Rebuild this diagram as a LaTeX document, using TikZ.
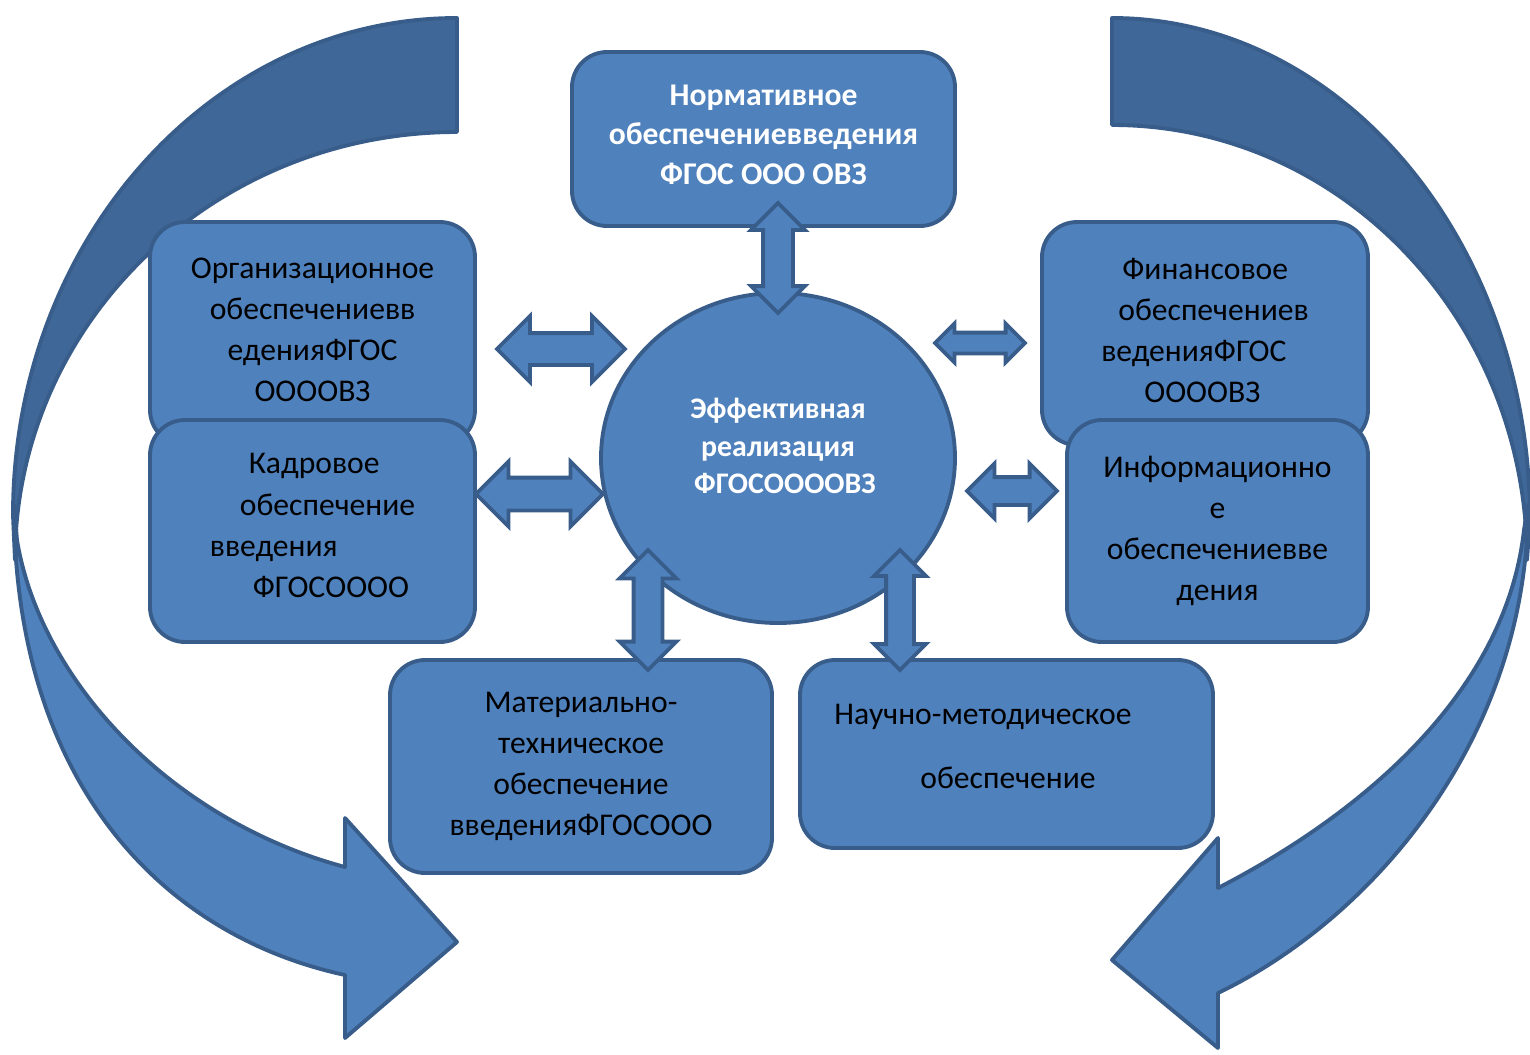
\documentclass[tikz,border=0pt]{standalone}
\usepackage{fontspec}
\setmainfont{Carlito}
\usetikzlibrary{shapes.geometric,shapes.arrows}

\definecolor{boxfill}{HTML}{4F81BD}
\definecolor{boxline}{HTML}{385D8A}
\definecolor{backfill}{HTML}{3F6797}

\tikzset{
  box/.style={draw=boxline, fill=boxfill, line width=1.1pt, rounded corners=3.5mm,
    inner sep=0pt, align=center, font=\fontsize{9}{11.7}\selectfont},
  hub/.style={ellipse, draw=boxline, fill=boxfill, line width=1.1pt, inner sep=0pt,
    align=center, text=white, font=\bfseries\fontsize{8.5}{10.6}\selectfont},
  dblarr/.style={double arrow, draw=boxline, fill=boxfill, line width=1.1pt,
    inner xsep=0pt, double arrow tip angle=90},
  bigarr/.style={draw=boxline, line width=1.1pt, line join=round}
}

\begin{document}
\begin{tikzpicture}[x=0.1mm,y=-0.1mm]
\useasboundingbox (0,0) rectangle (1530,1055);

% left curved arrow
\fill[bigarr, fill=backfill] (457,18) .. controls (212,18) and (13,240) .. (13,515)
  -- (15,560) .. controls (15,324) and (213,132) .. (457,132) -- cycle;
\fill[bigarr, fill=boxfill] (14,505) .. controls (14,780) and (160,935) .. (345,975)
  -- (345,1038) -- (457,942) -- (345,818) -- (345,867)
  .. controls (170,820) and (40,680) .. (17,540) -- cycle;

% right curved arrow
\fill[bigarr, fill=backfill] (1112,18) .. controls (1343,18) and (1530,243) .. (1530,520)
  -- (1527,560) .. controls (1527,320) and (1341,125) .. (1112,125) -- cycle;
\fill[bigarr, fill=boxfill] (1528,505) .. controls (1528,740) and (1370,920) .. (1218,993)
  -- (1218,1048) -- (1112,960) -- (1218,838) -- (1218,888)
  .. controls (1350,820) and (1505,700) .. (1524,530) -- cycle;

% boxes
\node[box, minimum width=38.3mm, minimum height=17.4mm, text=white, text depth=0.9mm,
  font=\bfseries\fontsize{9}{11.3}\selectfont] (norm) at (763.5,139)
  {Нормативное\\обеспечениевведения\\ФГОС ООО ОВЗ};
\node[box, minimum width=32.5mm, minimum height=22.3mm, text depth=0.7mm] (org) at (312.5,333.5)
  {Организационное\\обеспечениевв\\еденияФГОС\\ООООВЗ};
\node[box, minimum width=32.5mm, minimum height=22.2mm, align=left, text depth=1.1mm] (kadr) at (312.5,531)
  {\hspace*{3.9mm}Кадровое\\\hspace*{3mm}обеспечение\\введения\\\hspace*{4.3mm}ФГОСОООО\hspace*{0.3mm}};
\node[box, minimum width=32.6mm, minimum height=22.3mm, align=left, text depth=0.6mm] (fin) at (1205,333.5)
  {\hspace*{2.1mm}Финансовое\\\hspace*{1.7mm}обеспечениев\\веденияФГОС\\\hspace*{4.3mm}ООООВЗ};
\node[box, minimum width=30.1mm, minimum height=22.2mm] (info) at (1217.5,531)
  {Информационно\\е\\обеспечениевве\\дения};
\node[box, minimum width=38.2mm, minimum height=21.3mm] (mat) at (581,766.5)
  {Материально-\\техническое\\обеспечение\\введенияФГОСООО};
\node[box, minimum width=41.3mm, minimum height=18.8mm, align=left, text depth=1.6mm] (nauch) at (1006.5,754)
  {Научно-методическое\hspace*{4.7mm}\\[2.3mm]\hspace*{8.6mm}обеспечение};

% centre
\node[hub, minimum width=35.4mm, minimum height=33mm, text depth=2.4mm] (hub) at (778,458)
  {Эффективная\\реализация\\\hspace*{1.4mm}ФГОСООООВЗ};

% double arrows
\node[dblarr, rotate=90, minimum height=11mm, inner ysep=1.3mm,
  double arrow head extend=1.2mm] (aN) at (778,258) {};
\node[dblarr, minimum height=12.8mm, inner ysep=1.4mm,
  double arrow head extend=1.7mm] (aO) at (561,349) {};
\node[dblarr, minimum height=12.7mm, inner ysep=1.45mm,
  double arrow head extend=1.6mm] (aK) at (539.5,494) {};
\node[dblarr, minimum height=9mm, inner ysep=0.85mm,
  double arrow head extend=0.9mm] (aF) at (980,343) {};
\node[dblarr, minimum height=9mm, inner ysep=1.2mm,
  double arrow head extend=1.35mm] (aI) at (1012,491) {};
\node[dblarr, rotate=90, minimum height=12mm, inner ysep=1.25mm,
  double arrow head extend=1.4mm] (aM) at (648,610) {};
\node[dblarr, rotate=90, minimum height=12mm, inner ysep=1.2mm,
  double arrow head extend=1.2mm] (aS) at (900,610) {};
\end{tikzpicture}
\end{document}
